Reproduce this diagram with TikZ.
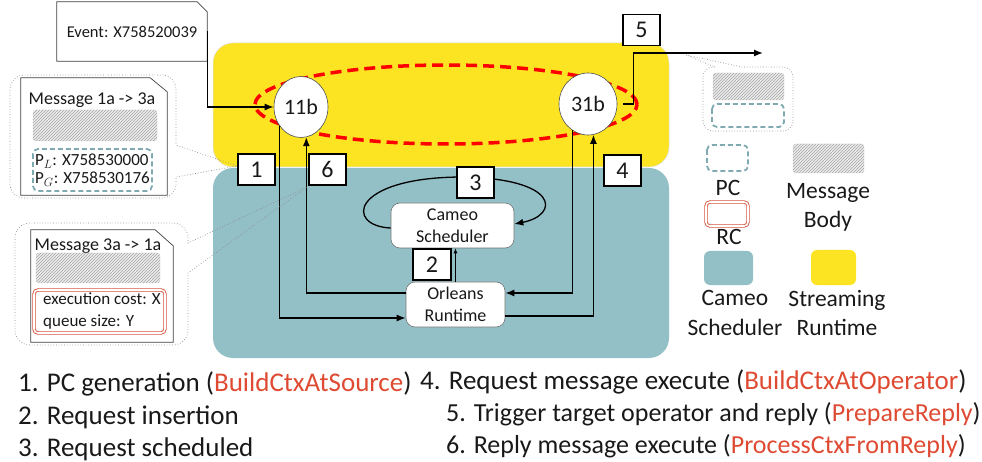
\documentclass[tikz,border=0pt]{standalone}
\usepackage{fontspec}
\setmainfont{Carlito}
\usetikzlibrary{arrows.meta,shapes.geometric,patterns}

\definecolor{srYellow}{RGB}{252,228,34}
\definecolor{csTeal}{RGB}{147,191,198}
\definecolor{pcTeal}{RGB}{128,170,178}
\definecolor{rcRed}{RGB}{214,84,62}
\definecolor{fnRed}{RGB}{222,74,50}
\definecolor{ink}{RGB}{25,25,25}

\newcommand{\fnname}[1]{\textcolor{fnRed}{#1}}
\newcommand{\fsz}[2]{\fontsize{#1}{#2}\selectfont}

\begin{document}
\begin{tikzpicture}[x=1pt,y=-1pt,
  arr/.style={line width=1.3pt,-{Latex[length=9pt,width=7pt]}},
  thinarr/.style={line width=0.8pt,-{Latex[length=5pt,width=4pt]}},
  numbox/.style={draw=black,line width=1.1pt,fill=white,minimum width=37pt,
    minimum height=31pt,inner sep=0pt,text=ink,font=\fsz{24}{24}},
  opnode/.style={ellipse,draw=black!70,line width=0.6pt,fill=white,inner sep=0pt,
    text=ink,font=\fsz{22}{22}},
  procbox/.style={rounded corners=9pt,draw=black!55,line width=0.6pt,fill=white,
    align=center,inner sep=0pt,text=ink,font=\fsz{18}{22}},
  region/.style={rounded corners=20pt},
  callout/.style={draw=black!45,dotted,line width=0.7pt},
  docline/.style={draw=black!75,line width=0.7pt},
  hatchbox/.style={rounded corners=3pt,draw=gray!35,fill=gray!15,
    postaction={pattern=north east lines,pattern color=gray!70}},
  pcbox/.style={rounded corners=5pt,draw=pcTeal,line width=1.8pt,dash pattern=on 5pt off 3pt},
  rcbox/.style={rounded corners=4pt,draw=rcRed,double=white,double distance=1.6pt,line width=0.9pt},
  txt/.style={inner sep=0pt,text=ink},
  legend/.style={txt,align=center,font=\fsz{23.5}{29.5}},
  listline/.style={txt,anchor=base west,font=\fsz{27}{32}},
]
\useasboundingbox (0,0) rectangle (982,462);

% runtime regions
\fill[srYellow,draw=black!12,line width=0.5pt,region] (213,43) rectangle (669,167);
\fill[csTeal,region] (213,168) rectangle (669,358);

% operator group and operators
\node[ellipse,draw=red,line width=3.5pt,dash pattern=on 11pt off 6pt,
  minimum width=382pt,minimum height=79pt,inner sep=0pt] (ring) at (446,104.5) {};
\node[opnode,minimum width=54pt,minimum height=61pt] (n11) at (301,107) {11b};
\node[opnode,minimum width=58pt,minimum height=62pt] (n31) at (588,104) {31b};

% scheduler and runtime
\node[procbox,minimum width=123pt,minimum height=45pt] (cam) at (452.5,225.5) {Cameo\\Scheduler};
\node[procbox,minimum width=99pt,minimum height=45pt] (orl) at (455.5,304.5) {Orleans\\Runtime};

% incoming event
\node[txt,minimum width=150pt,minimum height=59pt,font=\fsz{16.5}{20}] (event) at (132,31.5) {Event: X758520039};
\draw[docline] (event.south west) -- (event.north west) -- ([xshift=-10pt]event.north east)
  -- ([yshift=-10pt]event.north east) -- (event.south east) -- cycle;

% connectors
\draw[arr] (event.east) |- (n11.west);
\draw[arr] (n11.222) |- ([yshift=-13.5pt]orl.west);
\draw[arr] ([yshift=11.5pt]orl.west) -| (n11.280);
\draw[arr] (n31.239) |- ([yshift=11.5pt]orl.east);
\draw[arr] ([yshift=-11.5pt]orl.east) -| (n31.280);
\draw[thinarr] (orl.north) -- (orl.north |- cam.south);
\draw[arr] ([yshift=-2.5pt]cam.west) .. controls (345,226) and (350,178) .. (460,177)
  .. controls (560,178) and (560,215) .. ([yshift=1.5pt]cam.east);
\coordinate (out5) at (763,53);
\draw[arr] ([xshift=6pt]n31.east) -- ++(10,0) |- (out5);

% step numbers
\node[numbox] (b1) at (256.5,169.5) {1};
\node[numbox] (b6) at (327.5,169.5) {6};
\node[numbox] (b3) at (475.5,182.5) {3};
\node[numbox] (b4) at (622.5,170.5) {4};
\node[numbox] (b5) at (641.5,30) {5};
\node[numbox,minimum width=38pt] (b2) at (432,264.5) {2};

% callout: request message
\coordinate (tipA) at (237,166);
\draw[callout] (100,75) [rounded corners=14pt] -- (176,75) [sharp corners] -- (176,145)
  -- (tipA) -- (176,177) [rounded corners=14pt] -- (176,198) -- (10,198) -- (10,75) -- cycle;
\node[txt,minimum width=146pt,minimum height=117pt] (msgA) at (94,136.5) {};
\draw[docline] (msgA.south west) -- (msgA.north west) -- ([xshift=-17pt]msgA.north east)
  -- ([yshift=-14pt]msgA.north east) -- (msgA.south east) -- cycle;
\node[txt,font=\fsz{18}{20}] (msgAtitle) at (92,100) {Message 1a -> 3a};
\draw[hatchbox] (33,110) rectangle (157,141);
\draw[pcbox] (33,149) rectangle (152,191);
\node[txt,align=left,anchor=west,font=\fsz{17}{18}] (pcText) at (35,170)
  {$\mathrm{P}_{L}$: X758530000\\$\mathrm{P}_{G}$: X758530176};

% callout: reply message
\coordinate (tipB) at (307,187);
\draw[callout] (100,223) [rounded corners=15pt] -- (188,223) [sharp corners] -- (188,243)
  -- (tipB) -- (188,273) [rounded corners=15pt] -- (188,345) -- (15,345) -- (15,223) -- cycle;
\node[txt,minimum width=142pt,minimum height=112pt] (msgB) at (102,286) {};
\draw[docline] (msgB.south west) -- (msgB.north west) -- ([xshift=-18pt]msgB.north east)
  -- ([yshift=-16pt]msgB.north east) -- (msgB.south east) -- cycle;
\node[txt,font=\fsz{18}{20}] (msgBtitle) at (98,246) {Message 3a -> 1a};
\draw[hatchbox] (36,253) rectangle (160,283);
\draw[rcbox] (34,290) rectangle (165,333);
\node[txt,align=left,anchor=west,font=\fsz{17}{22}] (rcText) at (43,311)
  {execution cost: X\\queue size: Y};

% callout: outgoing reply
\coordinate (tipC) at (686,55);
\draw[callout] (703,100) [rounded corners=10pt] -- (703,67) [sharp corners] -- (715,67)
  -- (tipC) -- (742,67) [rounded corners=10pt] -- (793,67) -- (793,131) -- (703,131) -- cycle;
\draw[hatchbox] (713,73) rectangle (784,100);
\draw[pcbox] (712,104) rectangle (784,127);

% legend
\draw[pcbox] (707,145) rectangle (748,171);
\node[legend] (lgPC) at (728,188) {PC};
\draw[hatchbox] (793,144) rectangle (864,173);
\node[legend] (lgMsg) at (828,207.5) {Message\\Body};
\draw[rcbox] (706,202) rectangle (748,226);
\node[legend] (lgRC) at (729,237) {RC};
\fill[csTeal,rounded corners=6pt] (704,251) rectangle (753,285);
\node[legend] (lgCS) at (735,313) {Cameo\\Scheduler};
\fill[srYellow,rounded corners=6pt] (811,250) rectangle (856,285);
\node[legend] (lgSR) at (837,313) {Streaming\\Runtime};

% step descriptions
\node[listline] (l1) at (18,391) {1. PC generation (\fnname{BuildCtxAtSource})};
\node[listline] (l2) at (18,424.5) {2. Request insertion};
\node[listline] (l3) at (18,456.5) {3. Request scheduled};
\node[listline] (l4) at (420,389.5) {4. Request message execute (\fnname{BuildCtxAtOperator})};
\node[listline,font=\fsz{26}{30}] (l5) at (446,421.5) {5. Trigger target operator and reply (\fnname{PrepareReply})};
\node[listline,font=\fsz{26}{30}] (l6) at (446,453.5) {6. Reply message execute (\fnname{ProcessCtxFromReply})};
\end{tikzpicture}
\end{document}
